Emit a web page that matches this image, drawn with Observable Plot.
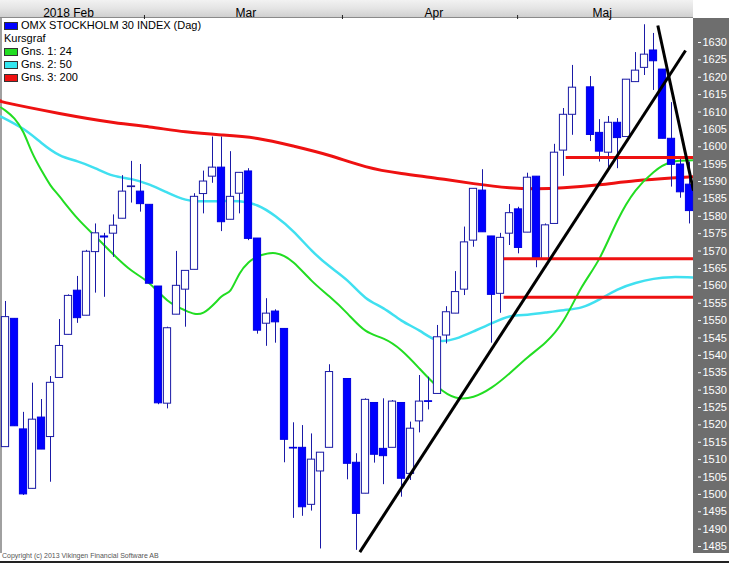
<!DOCTYPE html>
<html><head><meta charset="utf-8">
<script src="https://cdn.jsdelivr.net/npm/d3@7"></script>
<script src="https://cdn.jsdelivr.net/npm/@observablehq/plot@0.6"></script>
<style>
html,body{margin:0;padding:0;background:#fff;}
#wrap{position:relative;width:729px;height:563px;overflow:hidden;font-family:"Liberation Sans",Arial,sans-serif;}
#hdr{position:absolute;left:0;top:0;width:693px;height:17px;background:linear-gradient(to bottom,#f2f2f2 0%,#e4e4e4 50%,#cfcfcf 100%);border-bottom:1px solid #8a8a8a;}
#panel{position:absolute;left:693px;top:18px;width:36px;height:535px;background:#6e6e6e;}
#leftbar{position:absolute;left:0;top:18px;width:2px;height:535px;background:#a0a0a0;}
#chart{position:absolute;left:0;top:0;}
#legend{position:absolute;left:4px;top:19px;font-size:11px;line-height:13px;color:#000;}
#legend div{display:flex;align-items:center;height:13px;}
#legend span.sw{display:inline-block;width:12px;height:6px;border:1px solid #333;margin-right:3px;}
#legend span.nosw{display:inline-block;width:0;}
#copy{position:absolute;left:2px;top:552px;font-size:7px;color:#555;}
#bottom{position:absolute;left:0;top:561px;width:729px;height:2px;background:#222;}
</style>
</head><body>
<div id="wrap">
  <div id="hdr"></div>
  <div id="panel"></div>
  <div id="leftbar"></div>
  <div id="chart"></div>
  <div id="legend"></div>
  <div id="copy">Copyright (c) 2013 Vikingen Financial Software AB</div>
  <div id="bottom"></div>
</div>
<script>
// ---- Candles (slot index, open, high, low, close) ----
const slot  = [0,1,2,3,4,5,6,7,8,9,10,11,12,13,14,15,16,17,18,19,20,21,22,23,24,25,26,27,28,29,30,31,32,33,34,35,36,38,39,40,41,42,43,44,45,46,47,48,49,50,51,52,53,54,55,56,57,58,59,60,61,62,63,65,66,67,68,69,70,71,72,73,74,75,76];
const open  = [1513.6,1550.5,1518.7,1501.6,1522.1,1516.5,1533.5,1545.9,1558.6,1551.4,1569.7,1574.2,1575.0,1579.3,1588.4,1587.1,1583.3,1559.8,1526.1,1551.7,1558.9,1564.6,1586.4,1591.4,1594.0,1579.0,1586.5,1592.9,1573.6,1549.1,1552.6,1547.6,1513.4,1513.4,1497.0,1506.6,1513.4,1533.2,1509.1,1500.2,1526.3,1513.1,1513.4,1526.3,1505.9,1521.0,1526.8,1528.9,1545.7,1552.0,1558.9,1573.0,1587.4,1574.2,1557.7,1575.0,1582.0,1575.3,1591.4,1567.5,1577.8,1598.9,1609.2,1617.1,1604.0,1598.3,1606.9,1602.8,1618.6,1622.7,1627.7,1622.2,1602.3,1594.9,1589.1];
const high  = [1555.5,1550.5,1523.6,1532.0,1527.3,1533.9,1550.3,1557.4,1562.7,1570.2,1577.8,1575.1,1580.4,1591.7,1595.8,1594.9,1583.3,1559.8,1548.1,1569.9,1564.3,1586.5,1593.0,1602.8,1602.8,1598.6,1592.5,1593.7,1573.6,1556.3,1553.1,1547.6,1520.6,1519.8,1517.4,1512.0,1537.3,1533.2,1511.7,1527.5,1526.3,1527.5,1527.0,1526.3,1520.8,1534.2,1533.7,1548.6,1554.0,1564.1,1576.9,1587.9,1593.4,1574.2,1575.1,1583.4,1582.6,1592.4,1591.4,1577.8,1600.7,1611.0,1623.4,1620.2,1607.8,1608.7,1608.1,1619.3,1627.1,1635.1,1632.6,1622.2,1612.7,1597.2,1595.6];
const low   = [1513.6,1519.6,1499.7,1501.6,1512.9,1503.5,1533.5,1545.9,1549.2,1551.4,1557.9,1556.7,1568.2,1579.3,1583.8,1581.2,1560.6,1525.8,1524.6,1551.7,1548.1,1564.6,1580.7,1589.5,1575.6,1579.0,1580.7,1573.0,1546.1,1542.6,1543.5,1509.1,1493.1,1493.7,1495.2,1484.3,1513.4,1504.2,1483.9,1500.2,1509.0,1502.8,1513.4,1499.2,1504.0,1517.7,1524.3,1528.9,1543.3,1552.0,1557.2,1571.1,1575.4,1543.5,1552.1,1571.6,1569.2,1575.3,1565.2,1567.5,1577.8,1591.5,1603.3,1601.5,1595.6,1593.7,1593.7,1602.8,1618.6,1620.5,1616.2,1602.3,1588.4,1585.2,1577.8];
const close = [1551.0,1519.6,1500.0,1521.5,1512.9,1532.1,1542.7,1557.1,1550.7,1569.8,1575.1,1573.9,1577.3,1587.1,1588.6,1583.5,1560.6,1526.2,1547.8,1560.0,1564.3,1585.6,1590.0,1594.0,1578.3,1585.6,1592.5,1573.5,1547.1,1552.0,1549.5,1515.7,1513.2,1496.3,1510.0,1512.0,1535.2,1508.8,1494.4,1527.2,1511.4,1511.0,1526.7,1504.5,1518.9,1526.7,1526.6,1545.2,1552.4,1558.2,1572.5,1587.9,1575.4,1557.4,1573.8,1580.9,1570.9,1591.1,1567.5,1577.4,1598.3,1609.2,1617.0,1603.4,1598.6,1606.9,1602.5,1619.3,1621.9,1626.5,1624.6,1602.3,1594.8,1586.9,1581.5];

// ---- Moving averages (slot index, value) ----
const ma24Slot = [-0.5,0,1,2,3,4,5,6,8,10,12,14,16,18,20,22,24,25,26,27,28,30,32,34,36,38,40,42,44,46,48,50,52,54,56,58,60,62,64,66,68,70,72,74,76.5];
const ma24Val  = [1611.3,1610.4,1608.1,1604.1,1598.1,1593.2,1588.9,1585.7,1579.4,1574.2,1569.0,1564.4,1560.7,1555.8,1552.9,1552.3,1556.9,1558.7,1563.5,1566.7,1568.4,1569.4,1566.7,1561.5,1556.9,1552.0,1547.1,1544.8,1541.4,1536.2,1531.0,1527.9,1528.1,1530.7,1534.8,1539.4,1543.7,1550.0,1559.5,1567.9,1578.8,1587.4,1592.7,1595.6,1596.1];
const ma50Slot = [-0.5,2,4,6,8,10,12,14,16,18,20,22,24,26,28,30,32,34,36,38,40,42,44,46,48,50,52,54,56,58,60,62,64,66,68,70,72,74,76.5];
const ma50Val  = [1608.7,1605.1,1601.1,1597.6,1595.8,1593.8,1591.7,1590.7,1589.1,1586.8,1584.8,1584.3,1584.4,1584.3,1583.1,1580.0,1575.6,1570.2,1565.6,1561.5,1556.6,1553.5,1550.0,1547.1,1544.3,1544.8,1546.9,1549.2,1551.2,1551.7,1552.3,1553.0,1553.8,1556.1,1558.9,1560.8,1562.0,1562.5,1562.4];
const ma200Slot = [-0.5,0,6,12,16,20,24,28,32,36,40,44,48,52,56,59,62,66,70,74,76.5];
const ma200Val  = [1613.2,1612.7,1609.6,1607.0,1605.7,1604.3,1603.4,1602.4,1600.2,1597.5,1594.3,1592.3,1590.9,1589.4,1588.2,1587.9,1588.2,1589.1,1590.2,1591.0,1591.4];

// ---- Drawn support levels and trend lines ----
const levelY     = [1596.9, 1567.8, 1556.7];
const levelStart = [62.3, 55.4, 55.4];
const trendX1 = [39.37, 72.48];
const trendY1 = [1483.4, 1634.9];
const trendX2 = [75.56, 76.44];
const trendY2 = [1627.7, 1587.4];

// ---- Axes ----
const yTicks = d3.range(1485, 1631, 5);
const monthTickSlot = [15.44, 37.44, 56.9];
const monthLabel = ["2018 Feb", "Mar", "Apr", "Maj"];
const monthLabelSlot = [7.0, 26.7, 47.6, 66.3];

// ---- Legend ----
const legendText  = ["OMX STOCKHOLM 30 INDEX (Dag)", "Kursgraf", "Gns. 1: 24", "Gns. 2: 50", "Gns. 3: 200"];
const legendColor = ["#0000ff", null, "#22dd22", "#33e6f0", "#ee1111"];

const candles = slot.map((s, i) => ({s, o: open[i], h: high[i], l: low[i], c: close[i], up: close[i] >= open[i]}));
const ma24 = ma24Slot.map((s, i) => ({s, v: ma24Val[i]}));
const ma50 = ma50Slot.map((s, i) => ({s, v: ma50Val[i]}));
const ma200 = ma200Slot.map((s, i) => ({s, v: ma200Val[i]}));
const levels = levelY.map((v, i) => ({v, s: levelStart[i]}));
const trends = trendX1.map((x, i) => ({x1: x, y1: trendY1[i], x2: trendX2[i], y2: trendY2[i]}));
const months = monthLabel.map((t, i) => ({t, s: monthLabelSlot[i]}));

const XMAX = 688/9;
const half = 0.4;
const chart = Plot.plot({
  width: 729, height: 563,
  marginLeft: 0, marginRight: 36, marginTop: 18, marginBottom: 10,
  x: {domain: [-5/9, XMAX], axis: null},
  y: {domain: [1483.0, 1636.9], axis: null},
  style: {background: "transparent", fontFamily: "'Liberation Sans', Arial, sans-serif", overflow: "visible"},
  marks: [
    Plot.line(ma200, {x: "s", y: "v", stroke: "#ee1111", strokeWidth: 3, curve: "natural", clip: true}),
    Plot.line(ma50, {x: "s", y: "v", stroke: "#40e0f0", strokeWidth: 2.5, curve: "natural", clip: true}),
    Plot.line(ma24, {x: "s", y: "v", stroke: "#22dd22", strokeWidth: 2, curve: "natural", clip: true}),
    Plot.ruleX(candles, {x: "s", y1: "l", y2: "h", stroke: "#1a1aa6", strokeWidth: 1}),
    Plot.rect(candles, {x1: d => d.s - half, x2: d => d.s + half, y1: "o", y2: "c",
      fill: d => d.up ? "#ffffff" : "#0000ff", stroke: d => d.up ? "#1a1aa6" : "#0000e0", strokeWidth: 1}),
    Plot.ruleY(levels, {y: "v", x1: "s", x2: XMAX, stroke: "#ee1111", strokeWidth: 3}),
    Plot.link(trends, {x1: "x1", y1: "y1", x2: "x2", y2: "y2", stroke: "#000", strokeWidth: 3, clip: true}),
    Plot.axisY({anchor: "right", ticks: yTicks, tickFormat: d => String(d), tickSize: 3, tickPadding: 2, dx: 4, fontSize: 11, stroke: "#ffffff", fill: "#ffffff", label: null}),
    Plot.axisX({anchor: "top", ticks: monthTickSlot, tickSize: 4, tickFormat: () => "", stroke: "#222", label: null}),
    Plot.text(months, {x: "s", text: "t", frameAnchor: "top", dy: -10, fontSize: 12, fill: "#000"})
  ]
});
document.getElementById("chart").appendChild(chart);

const lg = document.getElementById("legend");
legendText.forEach((t, i) => {
  const row = document.createElement("div");
  const sw = document.createElement("span");
  if (legendColor[i]) { sw.className = "sw"; sw.style.background = legendColor[i]; }
  else sw.className = "nosw";
  row.appendChild(sw);
  row.appendChild(document.createTextNode(t));
  lg.appendChild(row);
});
</script>
</body></html>
